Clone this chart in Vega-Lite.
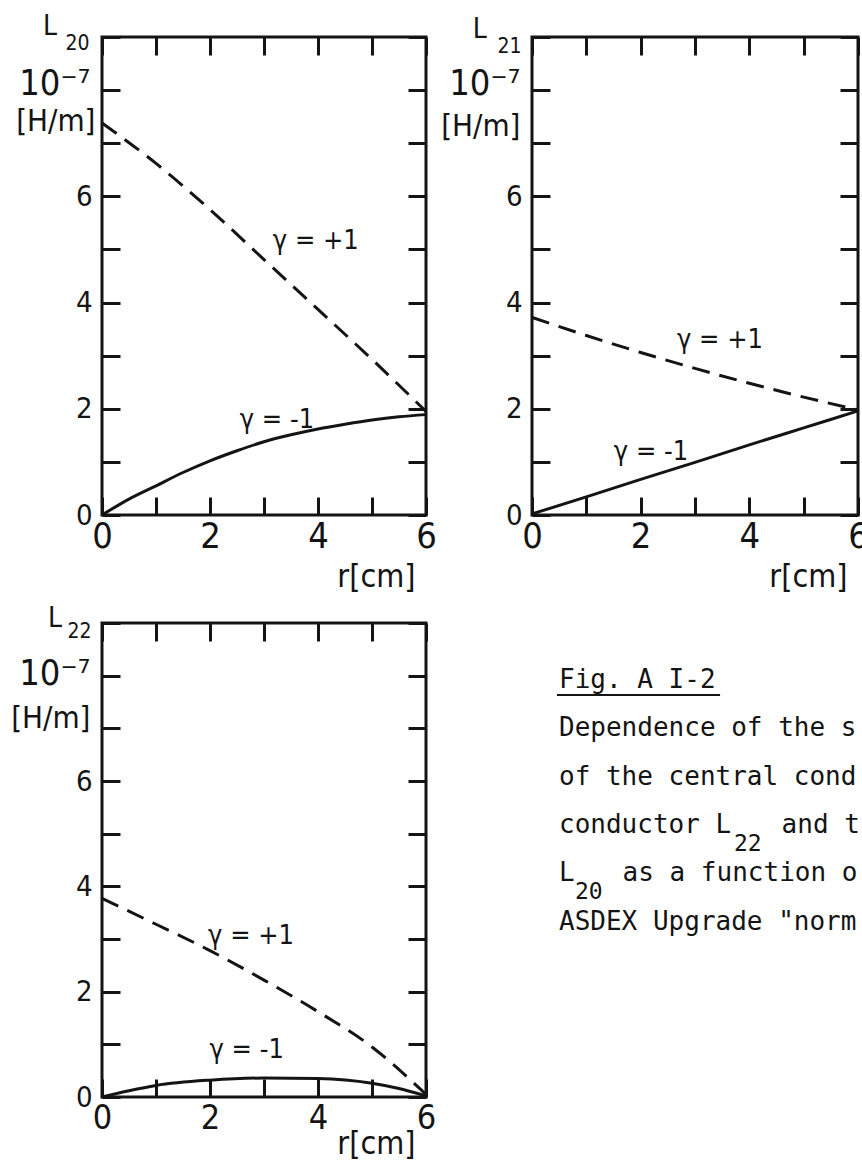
{
  "$schema": "https://vega.github.io/schema/vega-lite/v6.json",
  "background": "white",
  "padding": {"left": 9, "top": 11, "right": 0, "bottom": 0},
  "datasets": {
    "l20_minus": [
      {"r": 0, "L": 0}, {"r": 0.5, "L": 0.3}, {"r": 1, "L": 0.55}, {"r": 1.5, "L": 0.8},
      {"r": 2, "L": 1.02}, {"r": 2.5, "L": 1.21}, {"r": 3, "L": 1.38}, {"r": 3.5, "L": 1.51},
      {"r": 4, "L": 1.62}, {"r": 4.5, "L": 1.71}, {"r": 5, "L": 1.79}, {"r": 5.5, "L": 1.85},
      {"r": 6, "L": 1.89}
    ],
    "l20_plus": [
      {"r": 0, "L": 7.38}, {"r": 1, "L": 6.62}, {"r": 2, "L": 5.75}, {"r": 3, "L": 4.81},
      {"r": 4, "L": 3.87}, {"r": 5, "L": 2.93}, {"r": 6, "L": 1.95}
    ],
    "l20_tags": [
      {"r": 3.96, "L": 5.15, "tag": "γ = +1"},
      {"r": 3.24, "L": 1.79, "tag": "γ = -1"}
    ],
    "l21_minus": [
      {"r": 0, "L": 0.02}, {"r": 1, "L": 0.34}, {"r": 2, "L": 0.67}, {"r": 3, "L": 0.99},
      {"r": 4, "L": 1.32}, {"r": 5, "L": 1.64}, {"r": 6, "L": 1.96}
    ],
    "l21_plus": [
      {"r": 0, "L": 3.72}, {"r": 1, "L": 3.38}, {"r": 2, "L": 3.06}, {"r": 3, "L": 2.76},
      {"r": 4, "L": 2.48}, {"r": 5, "L": 2.22}, {"r": 6, "L": 1.98}
    ],
    "l21_tags": [
      {"r": 3.46, "L": 3.29, "tag": "γ = +1"},
      {"r": 2.19, "L": 1.19, "tag": "γ = -1"}
    ],
    "l22_minus": [
      {"r": 0, "L": 0}, {"r": 0.5, "L": 0.12}, {"r": 1, "L": 0.22}, {"r": 2, "L": 0.32},
      {"r": 3, "L": 0.36}, {"r": 4, "L": 0.35}, {"r": 5, "L": 0.26}, {"r": 5.5, "L": 0.16},
      {"r": 6, "L": 0.02}
    ],
    "l22_plus": [
      {"r": 0, "L": 3.77}, {"r": 1, "L": 3.28}, {"r": 2, "L": 2.78}, {"r": 3, "L": 2.22},
      {"r": 4, "L": 1.62}, {"r": 5, "L": 0.95}, {"r": 6, "L": 0.05}
    ],
    "l22_tags": [
      {"r": 2.76, "L": 3.06, "tag": "γ = +1"},
      {"r": 2.68, "L": 0.89, "tag": "γ = -1"}
    ],
    "head_L": [{"t": "L"}],
    "caption": [
      {"c": 0, "ln": 0, "s": "Fig. A I-2"},
      {"c": 0, "ln": 1, "s": "Dependence of the s"},
      {"c": 0, "ln": 2, "s": "of the central cond"},
      {"c": 0, "ln": 3, "s": "conductor L"},
      {"c": 14, "ln": 3, "s": "and t"},
      {"c": 0, "ln": 4, "s": "L"},
      {"c": 4, "ln": 4, "s": "as a function o"},
      {"c": 0, "ln": 5, "s": "ASDEX Upgrade \"norm"}
    ],
    "caption_sub": [
      {"c": 11, "ln": 3.37, "s": "22"},
      {"c": 1, "ln": 4.37, "s": "20"}
    ],
    "caption_rule": [
      {"c": -0.13, "c2": 10.13, "ln": 0.145}
    ]
  },
  "columns": 2,
  "spacing": {"row": 108, "column": 106},
  "bounds": "flush",
  "concat": [
    {
      "width": 324,
      "height": 478,
      "resolve": {"axis": {"x": "independent", "y": "independent"}},
      "layer": [
        {
          "data": {"name": "l20_minus"},
          "mark": {"type": "line", "interpolate": "monotone", "stroke": "#141414", "strokeWidth": 3},
          "encoding": {
            "x": {"field": "r", "type": "quantitative", "scale": {"domain": [0, 6], "nice": false},
              "axis": {"orient": "bottom", "values": [0, 1, 2, 3, 4, 5, 6], "tickSize": -18, "labelPadding": 22, "labelFontSize": 36,
                "labelExpr": "datum.value % 2 == 0 ? datum.label : ''",
                "title": "r[cm]", "titleX": 313, "titleY": 71, "titleAlign": "right", "titleBaseline": "alphabetic", "titleFontSize": 32}},
            "y": {"field": "L", "type": "quantitative", "scale": {"domain": [0, 9], "nice": false},
              "axis": {"orient": "left", "values": [0, 1, 2, 3, 4, 5, 6, 7, 8, 9], "tickSize": -18, "labelPadding": 28, "labelFontSize": 29,
                "labelExpr": "datum.value <= 6 && datum.value % 2 == 0 ? datum.label : ''",
                "title": "[H/m]", "titleAngle": 0, "titleAlign": "right", "titleBaseline": "alphabetic",
                "titleX": -7, "titleY": 93, "titleFontSize": 31}}
          }
        },
        {
          "data": {"name": "l20_plus"},
          "mark": {"type": "line", "interpolate": "monotone", "stroke": "#141414", "strokeWidth": 3, "strokeDash": [18, 10]},
          "encoding": {
            "x": {"field": "r", "type": "quantitative", "scale": {"domain": [0, 6], "nice": false},
              "axis": {"orient": "top", "values": [0, 1, 2, 3, 4, 5, 6], "tickSize": -18, "labels": false,
                "title": "20", "titleX": -37, "titleY": 12, "titleAlign": "left", "titleBaseline": "alphabetic", "titleFontSize": 21}},
            "y": {"field": "L", "type": "quantitative", "scale": {"domain": [0, 9], "nice": false},
              "axis": {"orient": "right", "values": [0, 1, 2, 3, 4, 5, 6, 7, 8, 9], "tickSize": -18, "labels": false,
                "title": "10⁻⁷", "titleAngle": 0, "titleX": -336, "titleY": 57, "titleAlign": "right", "titleBaseline": "alphabetic", "titleFontSize": 36}}
          }
        },
        {
          "data": {"name": "head_L"},
          "mark": {"type": "text", "fontSize": 28, "align": "right", "baseline": "alphabetic", "color": "#141414"},
          "encoding": {
            "x": {"datum": -0.833, "type": "quantitative", "axis": null},
            "y": {"datum": 9.04, "type": "quantitative", "axis": null},
            "text": {"field": "t"}
          }
        },
        {
          "data": {"name": "l20_tags"},
          "mark": {"type": "text", "fontSize": 27, "color": "#141414"},
          "encoding": {
            "x": {"field": "r", "type": "quantitative", "axis": null},
            "y": {"field": "L", "type": "quantitative", "axis": null},
            "text": {"field": "tag"}
          }
        }
      ]
    },
    {
      "width": 326,
      "height": 478,
      "resolve": {"axis": {"x": "independent", "y": "independent"}},
      "layer": [
        {
          "data": {"name": "l21_minus"},
          "mark": {"type": "line", "interpolate": "monotone", "stroke": "#141414", "strokeWidth": 3},
          "encoding": {
            "x": {"field": "r", "type": "quantitative", "scale": {"domain": [0, 6], "nice": false},
              "axis": {"orient": "bottom", "values": [0, 1, 2, 3, 4, 5, 6], "tickSize": -18, "labelPadding": 22, "labelFontSize": 36,
                "labelExpr": "datum.value % 2 == 0 ? datum.label : ''",
                "title": "r[cm]", "titleX": 315, "titleY": 71, "titleAlign": "right", "titleBaseline": "alphabetic", "titleFontSize": 32}},
            "y": {"field": "L", "type": "quantitative", "scale": {"domain": [0, 9], "nice": false},
              "axis": {"orient": "left", "values": [0, 1, 2, 3, 4, 5, 6, 7, 8, 9], "tickSize": -18, "labelPadding": 28, "labelFontSize": 29,
                "labelExpr": "datum.value <= 6 && datum.value % 2 == 0 ? datum.label : ''",
                "title": "[H/m]", "titleAngle": 0, "titleAlign": "right", "titleBaseline": "alphabetic",
                "titleX": -12, "titleY": 98, "titleFontSize": 31}}
          }
        },
        {
          "data": {"name": "l21_plus"},
          "mark": {"type": "line", "interpolate": "monotone", "stroke": "#141414", "strokeWidth": 3, "strokeDash": [18, 10]},
          "encoding": {
            "x": {"field": "r", "type": "quantitative", "scale": {"domain": [0, 6], "nice": false},
              "axis": {"orient": "top", "values": [0, 1, 2, 3, 4, 5, 6], "tickSize": -18, "labels": false,
                "title": "21", "titleX": -35, "titleY": 15, "titleAlign": "left", "titleBaseline": "alphabetic", "titleFontSize": 21}},
            "y": {"field": "L", "type": "quantitative", "scale": {"domain": [0, 9], "nice": false},
              "axis": {"orient": "right", "values": [0, 1, 2, 3, 4, 5, 6, 7, 8, 9], "tickSize": -18, "labels": false,
                "title": "10⁻⁷", "titleAngle": 0, "titleX": -338, "titleY": 57, "titleAlign": "right", "titleBaseline": "alphabetic", "titleFontSize": 36}}
          }
        },
        {
          "data": {"name": "head_L"},
          "mark": {"type": "text", "fontSize": 28, "align": "right", "baseline": "alphabetic", "color": "#141414"},
          "encoding": {
            "x": {"datum": -0.83, "type": "quantitative", "axis": null},
            "y": {"datum": 8.98, "type": "quantitative", "axis": null},
            "text": {"field": "t"}
          }
        },
        {
          "data": {"name": "l21_tags"},
          "mark": {"type": "text", "fontSize": 27, "color": "#141414"},
          "encoding": {
            "x": {"field": "r", "type": "quantitative", "axis": null},
            "y": {"field": "L", "type": "quantitative", "axis": null},
            "text": {"field": "tag"}
          }
        }
      ]
    },
    {
      "width": 324,
      "height": 474,
      "resolve": {"axis": {"x": "independent", "y": "independent"}},
      "layer": [
        {
          "data": {"name": "l22_minus"},
          "mark": {"type": "line", "interpolate": "monotone", "stroke": "#141414", "strokeWidth": 3},
          "encoding": {
            "x": {"field": "r", "type": "quantitative", "scale": {"domain": [0, 6], "nice": false},
              "axis": {"orient": "bottom", "values": [0, 1, 2, 3, 4, 5, 6], "tickSize": -18, "labelPadding": 22, "labelFontSize": 34,
                "labelExpr": "datum.value % 2 == 0 ? datum.label : ''",
                "title": "r[cm]", "titleX": 313, "titleY": 56, "titleAlign": "right", "titleBaseline": "alphabetic", "titleFontSize": 32}},
            "y": {"field": "L", "type": "quantitative", "scale": {"domain": [0, 9], "nice": false},
              "axis": {"orient": "left", "values": [0, 1, 2, 3, 4, 5, 6, 7, 8, 9], "tickSize": -18, "labelPadding": 28, "labelFontSize": 29,
                "labelExpr": "datum.value <= 6 && datum.value % 2 == 0 ? datum.label : ''",
                "title": "[H/m]", "titleAngle": 0, "titleAlign": "right", "titleBaseline": "alphabetic",
                "titleX": -12, "titleY": 104, "titleFontSize": 31}}
          }
        },
        {
          "data": {"name": "l22_plus"},
          "mark": {"type": "line", "interpolate": "monotone", "stroke": "#141414", "strokeWidth": 3, "strokeDash": [18, 10]},
          "encoding": {
            "x": {"field": "r", "type": "quantitative", "scale": {"domain": [0, 6], "nice": false},
              "axis": {"orient": "top", "values": [0, 1, 2, 3, 4, 5, 6], "tickSize": -18, "labels": false,
                "title": "22", "titleX": -35, "titleY": 14, "titleAlign": "left", "titleBaseline": "alphabetic", "titleFontSize": 21}},
            "y": {"field": "L", "type": "quantitative", "scale": {"domain": [0, 9], "nice": false},
              "axis": {"orient": "right", "values": [0, 1, 2, 3, 4, 5, 6, 7, 8, 9], "tickSize": -18, "labels": false,
                "title": "10⁻⁷", "titleAngle": 0, "titleX": -336, "titleY": 61, "titleAlign": "right", "titleBaseline": "alphabetic", "titleFontSize": 36}}
          }
        },
        {
          "data": {"name": "head_L"},
          "mark": {"type": "text", "fontSize": 28, "align": "right", "baseline": "alphabetic", "color": "#141414"},
          "encoding": {
            "x": {"datum": -0.74, "type": "quantitative", "axis": null},
            "y": {"datum": 8.92, "type": "quantitative", "axis": null},
            "text": {"field": "t"}
          }
        },
        {
          "data": {"name": "l22_tags"},
          "mark": {"type": "text", "fontSize": 27, "color": "#141414"},
          "encoding": {
            "x": {"field": "r", "type": "quantitative", "axis": null},
            "y": {"field": "L", "type": "quantitative", "axis": null},
            "text": {"field": "tag"}
          }
        }
      ]
    },
    {
      "width": 326,
      "height": 474,
      "view": {"stroke": null},
      "layer": [
        {
          "data": {"name": "caption"},
          "mark": {"type": "text", "font": "DejaVu Sans Mono", "fontSize": 26, "align": "left", "baseline": "alphabetic", "color": "#141414"},
          "encoding": {
            "x": {"field": "c", "type": "quantitative", "scale": {"domain": [-1.698, 18.805], "nice": false, "zero": false}, "axis": null},
            "y": {"field": "ln", "type": "quantitative", "scale": {"domain": [-1.346, 8.468], "nice": false, "zero": false, "reverse": true}, "axis": null},
            "text": {"field": "s"}
          }
        },
        {
          "data": {"name": "caption_sub"},
          "mark": {"type": "text", "font": "DejaVu Sans Mono", "fontSize": 23, "align": "left", "baseline": "alphabetic", "color": "#141414"},
          "encoding": {
            "x": {"field": "c", "type": "quantitative"},
            "y": {"field": "ln", "type": "quantitative"},
            "text": {"field": "s"}
          }
        },
        {
          "data": {"name": "caption_rule"},
          "mark": {"type": "rule", "stroke": "#141414", "strokeWidth": 2},
          "encoding": {
            "x": {"field": "c", "type": "quantitative"},
            "x2": {"field": "c2"},
            "y": {"field": "ln", "type": "quantitative"}
          }
        }
      ]
    }
  ],
  "config": {
    "font": "DejaVu Sans Condensed, DejaVu Sans, sans-serif",
    "view": {"stroke": "#141414", "strokeWidth": 3},
    "axis": {
      "domain": false,
      "grid": false,
      "tickWidth": 3,
      "tickColor": "#141414",
      "labelColor": "#141414",
      "labelFlush": false,
      "labelOverlap": false,
      "titleColor": "#141414",
      "titleFontWeight": "normal"
    },
    "text": {"font": "DejaVu Sans Condensed, DejaVu Sans, sans-serif"}
  }
}
